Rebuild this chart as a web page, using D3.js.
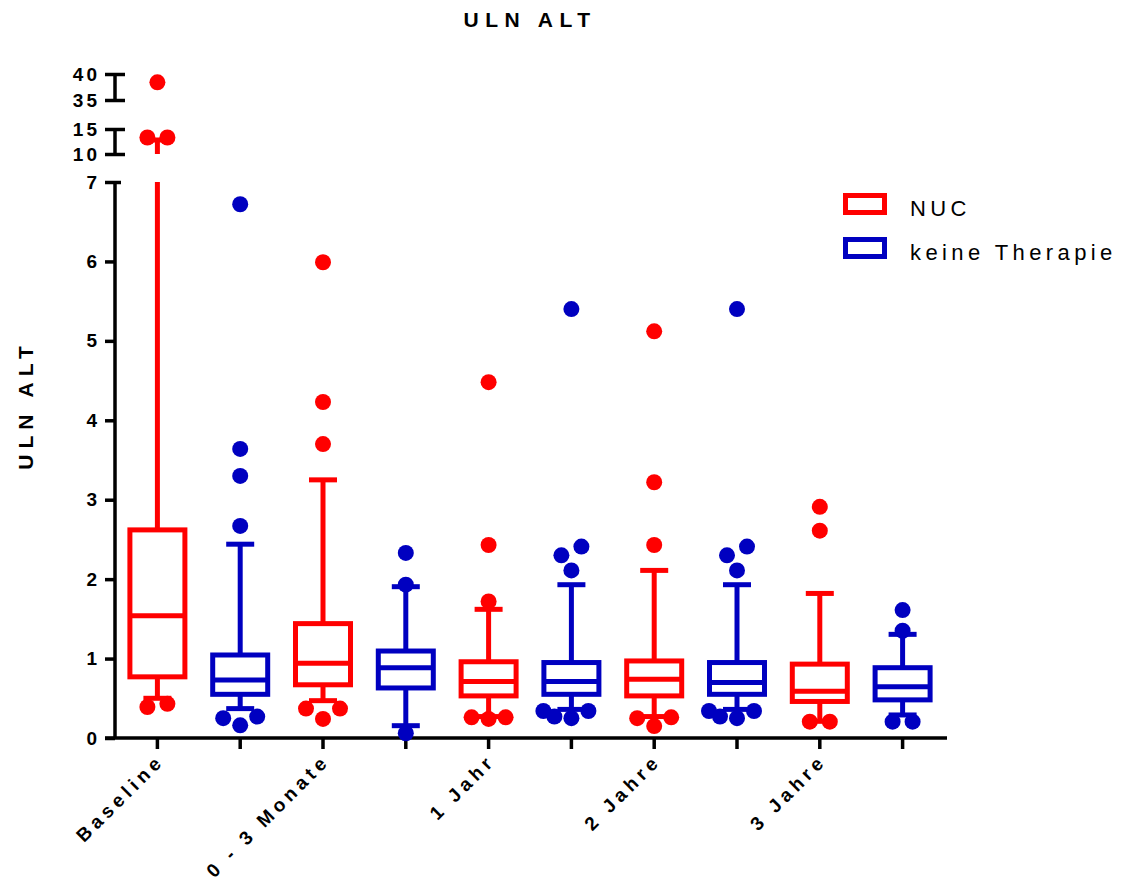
<!DOCTYPE html>
<html>
<head>
<meta charset="utf-8">
<script src="https://cdn.jsdelivr.net/npm/d3@7"></script>
<style>
  body { margin: 0; background: #fff; }
  svg { display: block; }
  text { font-family: "Liberation Sans", Arial, sans-serif; fill: #000; }
</style>
</head>
<body>
<svg id="chart" width="1122" height="888"></svg>
<script>
// ---- data ----
const groups = ["Baseline", "0 - 3 Monate", "1 Jahr", "2 Jahre", "3 Jahre"];
const seriesNames = ["NUC", "keine Therapie"];
const seriesColors = ["#FF0000", "#0000C0"];

// NUC: whisker ends, quartiles, outliers per time point
const nucLow    = [0.50, 0.47, 0.27, 0.27, 0.21];
const nucQ1     = [0.77, 0.67, 0.53, 0.53, 0.46];
const nucMedian = [1.54, 0.94, 0.71, 0.74, 0.59];
const nucQ3     = [2.62, 1.44, 0.96, 0.97, 0.93];
const nucHigh   = [12.8, 3.25, 1.62, 2.11, 1.82];
const nucOutliers = [
  [0.39, 0.43, 13.3, 13.3, 38.4],
  [0.24, 0.37, 0.37, 3.70, 4.23, 5.99],
  [0.24, 0.26, 0.26, 1.72, 2.43, 4.48],
  [0.15, 0.25, 0.26, 2.43, 3.22, 5.12],
  [0.205, 0.205, 2.61, 2.91]
];

// keine Therapie
const noneLow    = [0.37, 0.155, 0.36, 0.36, 0.29];
const noneQ1     = [0.55, 0.63, 0.55, 0.55, 0.48];
const noneMedian = [0.73, 0.885, 0.71, 0.70, 0.645];
const noneQ3     = [1.045, 1.095, 0.95, 0.95, 0.885];
const noneHigh   = [2.44, 1.905, 1.93, 1.93, 1.305];
const noneOutliers = [
  [0.16, 0.25, 0.27, 2.67, 3.30, 3.64, 6.72],
  [0.06, 1.93, 2.33],
  [0.25, 0.27, 0.34, 0.34, 2.11, 2.30, 2.41, 5.40],
  [0.25, 0.27, 0.34, 0.34, 2.11, 2.30, 2.41, 5.40],
  [0.205, 0.205, 1.35, 1.61]
];

// broken y axis: value ranges of each segment and their ticks
const segmentDomains = [[0, 7], [10, 15], [35, 40]];
const segmentTicks = [[0, 1, 2, 3, 4, 5, 6, 7], [10, 15], [35, 40]];

const chartTitle = "ULN ALT";
const yTitle = "ULN ALT";

// ---- build series records ----
const seriesData = [
  { low: nucLow, q1: nucQ1, med: nucMedian, q3: nucQ3, high: nucHigh, out: nucOutliers },
  { low: noneLow, q1: noneQ1, med: noneMedian, q3: noneQ3, high: noneHigh, out: noneOutliers }
];
const boxes = [];
groups.forEach((g, gi) => {
  seriesNames.forEach((s, si) => {
    const d = seriesData[si];
    boxes.push({
      group: g, series: s, color: seriesColors[si],
      low: d.low[gi], q1: d.q1[gi], med: d.med[gi], q3: d.q3[gi], high: d.high[gi],
      outliers: d.out[gi]
    });
  });
});

// ---- layout ----
const svg = d3.select("#chart");
const axisX = 115;
const baseY = 738;
const segmentRanges = [[738, 182], [154, 129], [100, 74]];
const segments = segmentDomains.map((dom, i) => ({
  scale: d3.scaleLinear().domain(dom).range(segmentRanges[i]),
  ticks: segmentTicks[i],
  domain: dom
}));
function yOf(v) {
  for (const s of segments) if (v >= s.domain[0] - 1e-9 && v <= s.domain[1] + 1e-9) return s.scale(v);
  let best = segments[0];
  for (const s of segments) if (v > s.domain[1]) best = s;
  return best.scale(best.domain[1]);
}

const x0 = d3.scaleBand().domain(groups).range([116, 944]).padding(0);
const x1 = d3.scaleBand().domain(seriesNames).range([0, x0.bandwidth()]).padding(0);
const cx = d => x0(d.group) + x1(d.series) + x1.bandwidth() / 2;

const boxW = 55, capW = 28, lineW = 5, dotR = 8;

// ---- axes ----
const axisG = svg.append("g");
segments.forEach((s, i) => {
  const ax = d3.axisLeft(s.scale).tickValues(s.ticks).tickSize(10).tickSizeOuter(0).tickPadding(5)
    .tickFormat(d3.format("d"));
  const g = axisG.append("g").attr("transform", `translate(${axisX},0)`).call(ax);
  g.select(".domain").attr("stroke", "#000").attr("stroke-width", 3.5)
    .attr("d", `M0,${s.scale.range()[0]}V${s.scale.range()[1]}`);
  g.selectAll(".tick line").attr("stroke", "#000").attr("stroke-width", 3.5);
  if (i > 0) g.selectAll(".tick line").attr("x1", 10);
  else g.selectAll(".tick").filter(d => d === 7).select("line").attr("x1", 6);
  g.selectAll(".tick text")
    .attr("font-size", 19).attr("font-weight", "bold").attr("letter-spacing", "3px")
    .attr("font-family", "'Liberation Sans', Arial, sans-serif");
});

// x axis: a tick under every box, labels at the time points
const xg = axisG.append("g");
xg.append("line").attr("x1", axisX - 10).attr("x2", 947).attr("y1", baseY).attr("y2", baseY)
  .attr("stroke", "#000").attr("stroke-width", 3.5);
xg.selectAll("line.xt").data(boxes).join("line").attr("class", "xt")
  .attr("x1", cx).attr("x2", cx).attr("y1", baseY).attr("y2", baseY + 11)
  .attr("stroke", "#000").attr("stroke-width", 3.5);
xg.selectAll("text.xl").data(groups).join("text").attr("class", "xl")
  .attr("transform", g => `translate(${x0(g) + x1.bandwidth() / 2 + 8},${baseY + 24}) rotate(-45)`)
  .attr("text-anchor", "end")
  .attr("font-size", 19).attr("font-weight", "bold").attr("letter-spacing", "4.6px")
  .text(g => g);

// ---- boxes ----
const plot = svg.append("g");

function whiskerPieces(a, b) {
  const pieces = [];
  segments.forEach(s => {
    const lo = Math.max(a, s.domain[0]), hi = Math.min(b, s.domain[1]);
    if (hi > lo) pieces.push([s.scale(lo), s.scale(hi)]);
  });
  return pieces;
}

function slotOffsets(n, sp) {
  const offs = [];
  if (n % 2 === 1) {
    offs.push(0);
    for (let k = 1; offs.length < n; k++) { offs.push(-k * sp); if (offs.length < n) offs.push(k * sp); }
  } else {
    for (let k = 0; offs.length < n; k++) { offs.push(-(k + 0.5) * sp); offs.push((k + 0.5) * sp); }
  }
  return offs;
}

// outliers: nearby values share a row and are spread symmetrically around the box centre
function spreadDots(values) {
  const sorted = values.slice().sort((a, b) => a - b);
  const rows = [];
  sorted.forEach(v => {
    const last = rows[rows.length - 1];
    if (last && last.length < 3 && Math.abs(yOf(last[0]) - yOf(v)) < 11) last.push(v); else rows.push([v]);
  });
  const placed = [];
  const minD = 12;
  const clear = c => placed.every(p => Math.hypot(c.dx - p.dx, c.py - p.py) >= minD);
  rows.forEach(row => {
    const n = row.length;
    if (n === 1) {
      for (let k = 0; k < 60; k++) {
        const dx = (k % 2 ? -1 : 1) * Math.ceil(k / 2);
        const c = { v: row[0], dx, py: yOf(row[0]) };
        if (clear(c) || k === 59) { placed.push(c); break; }
      }
      return;
    }
    let sp = n % 2 === 0 ? 2 * dotR + 4 : 2 * dotR + 1;
    for (let it = 0; it < 40; it++, sp += 1) {
      const offs = slotOffsets(n, sp);
      const cand = row.map((v, i) => ({ v, dx: offs[i], py: yOf(v) }));
      if (cand.every(clear) || it === 39) { placed.push(...cand); break; }
    }
  });
  return placed;
}

boxes.forEach(d => {
  const g = plot.append("g");
  const x = cx(d);
  const pieces = whiskerPieces(d.q3, d.high).concat(whiskerPieces(d.low, d.q1));
  pieces.forEach(p => g.append("line").attr("x1", x).attr("x2", x).attr("y1", p[0]).attr("y2", p[1])
    .attr("stroke", d.color).attr("stroke-width", lineW));
  [d.low, d.high].forEach(v => g.append("line")
    .attr("x1", x - capW / 2).attr("x2", x + capW / 2).attr("y1", yOf(v)).attr("y2", yOf(v))
    .attr("stroke", d.color).attr("stroke-width", lineW));
  g.append("rect").attr("x", x - boxW / 2).attr("width", boxW)
    .attr("y", yOf(d.q3)).attr("height", yOf(d.q1) - yOf(d.q3))
    .attr("fill", "#fff").attr("stroke", d.color).attr("stroke-width", lineW);
  g.append("line").attr("x1", x - boxW / 2).attr("x2", x + boxW / 2)
    .attr("y1", yOf(d.med)).attr("y2", yOf(d.med))
    .attr("stroke", d.color).attr("stroke-width", lineW);

  const dots = spreadDots(d.outliers);
  g.selectAll("circle").data(dots).join("circle")
    .attr("cx", p => x + p.dx).attr("cy", p => p.py).attr("r", dotR).attr("fill", d.color);
});

// ---- titles ----
svg.append("text").attr("x", 530).attr("y", 27).attr("text-anchor", "middle")
  .attr("font-size", 21).attr("font-weight", "bold").attr("letter-spacing", "6.5px")
  .text(chartTitle);
svg.append("text").attr("transform", "translate(33,405) rotate(-90)").attr("text-anchor", "middle")
  .attr("font-size", 21).attr("font-weight", "bold").attr("letter-spacing", "6px")
  .text(yTitle);

// ---- legend ----
const legend = svg.append("g");
seriesNames.forEach((s, i) => {
  const ly = 195.5 + i * 44;
  legend.append("rect").attr("x", 845.5).attr("y", ly).attr("width", 39).attr("height", 17)
    .attr("fill", "#fff").attr("stroke", seriesColors[i]).attr("stroke-width", lineW);
  legend.append("text").attr("x", 910).attr("y", ly + 20.5)
    .attr("font-size", 22).attr("letter-spacing", "4.4px").text(s);
});
</script>
</body>
</html>
